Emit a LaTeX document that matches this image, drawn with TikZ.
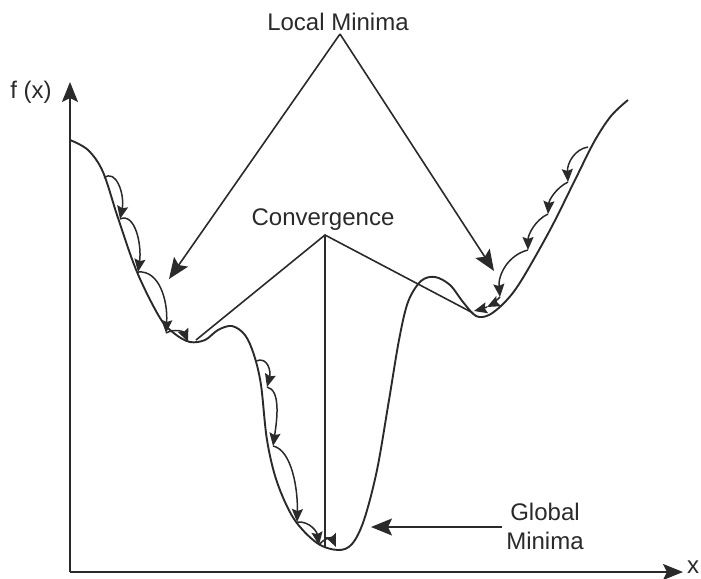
\documentclass[tikz,border=0pt]{standalone}
\usepackage{fontspec}
\setmainfont{Liberation Sans}
\usetikzlibrary{arrows.meta}
\definecolor{ink}{HTML}{2A2A2A}
\tikzset{
  curveline/.style={draw=ink, line width=1.9pt, line join=round},
  axisline/.style={draw=ink, line width=1.9pt, -{Stealth[length=20pt,width=16pt,inset=4pt]}},
  stepar/.style={draw=ink, line width=1.5pt, -{Stealth[length=13pt,width=11pt,inset=2pt]}},
  callar/.style={draw=ink, line width=1.6pt, -{Stealth[length=21pt,width=17pt,inset=4pt]}},
  callline/.style={draw=ink, line width=1.6pt},
  lbl/.style={text=ink, font=\fontsize{24}{27}\selectfont, inner sep=0pt, align=center}
}
\begin{document}
\begin{tikzpicture}[x=1pt,y=-1pt]
\useasboundingbox (0,0) rectangle (701,578);
% axes
\coordinate (O) at (70,572);
\coordinate (ytop) at (70,82);
\coordinate (xend) at (683,572);
\draw[axisline] (O) -- (ytop);
\draw[axisline] (O) -- (xend);
\node[lbl] (fx) at (31,92) {f (x)};
\node[lbl] (xl) at (693,567) {x};
% function curve
\draw[curveline] plot[smooth, tension=0.55] coordinates {
 (70,140) (88,150) (103,172) (118,218) (137,272) (160,318) (175,334) (190,342)
 (205,340) (218,330) (232,326) (245,335) (254,355) (261,385) (267,440) (277,482)
 (294,519) (317,543) (338,550) (352,544) (364,520) (377,470) (389,400) (399,340)
 (408,302) (421,281) (435,277) (450,285) (463,302) (476,316) (489,315) (505,302)
 (521,281) (550,230) (574,182) (594,142) (611,116) (628,100)};
% step arrows, left slope
\coordinate (a0) at (104,178);
\coordinate (a1) at (120,219);
\coordinate (a2) at (138,272);
\coordinate (a3) at (166,333);
\coordinate (a4) at (188,342);
\draw[stepar] (a0) .. controls (116,168) and (125,195) .. (a1);
\draw[stepar] (a1) .. controls (135,212) and (142,245) .. (a2);
\draw[stepar] (a2) .. controls (159,270) and (168,300) .. (a3);
\draw[stepar] (a3) .. controls (175,328) and (184,332) .. (a4);
% step arrows, middle slope
\coordinate (b0) at (256,361);
\coordinate (b1) at (267,387);
\coordinate (b2) at (273,446);
\coordinate (b3) at (297,522);
\coordinate (b4) at (319,545);
\coordinate (b5) at (336,547);
\draw[stepar] (b0) .. controls (268,356) and (271,372) .. (b1);
\draw[stepar] (b1) .. controls (281,390) and (277,420) .. (b2);
\draw[stepar] (b2) .. controls (292,450) and (298,490) .. (b3);
\draw[stepar] (b3) .. controls (310,521) and (317,532) .. (b4);
\draw[stepar] (b4) .. controls (325,537) and (332,538) .. (b5);
% step arrows, right slope
\coordinate (c0) at (588,147);
\coordinate (c1) at (568,182);
\coordinate (c2) at (548,214);
\coordinate (c3) at (528,250);
\coordinate (c4) at (500,297);
\coordinate (c5) at (487,307);
\coordinate (c6) at (474,311);
\draw[stepar] (c0) .. controls (575,149) and (567,163) .. (c1);
\draw[stepar] (c1) .. controls (556,188) and (549,200) .. (c2);
\draw[stepar] (c2) .. controls (535,220) and (528,235) .. (c3);
\draw[stepar] (c3) .. controls (508,255) and (498,275) .. (c4);
\draw[stepar] (c4) .. controls (495,302) and (491,305) .. (c5);
\draw[stepar] (c5) .. controls (482,309) and (478,310) .. (c6);
% Local Minima callout
\node[lbl] (lm) at (338,22) {Local Minima};
\coordinate (lmapex) at (340,34);
\coordinate (lmL) at (169,279);
\coordinate (lmR) at (494,271);
\draw[callar] (lmapex) -- (lmL);
\draw[callar] (lmapex) -- (lmR);
% Convergence callout
\node[lbl] (cv) at (323,220) {Convergence};
\coordinate (cvapex) at (325,235);
\coordinate (cvL) at (196,340);
\coordinate (cvM) at (325,548);
\coordinate (cvR) at (473,313);
\draw[callline] (cvL) -- (cvapex) -- (cvR);
\draw[callline] (cvapex) -- (cvM);
% Global Minima callout
\node[lbl] (gm) at (545,526) {Global\\[2pt]Minima};
\coordinate (gmstart) at (502,527);
\coordinate (gmtip) at (371,527);
\draw[callar] (gmstart) -- (gmtip);
\end{tikzpicture}
\end{document}
